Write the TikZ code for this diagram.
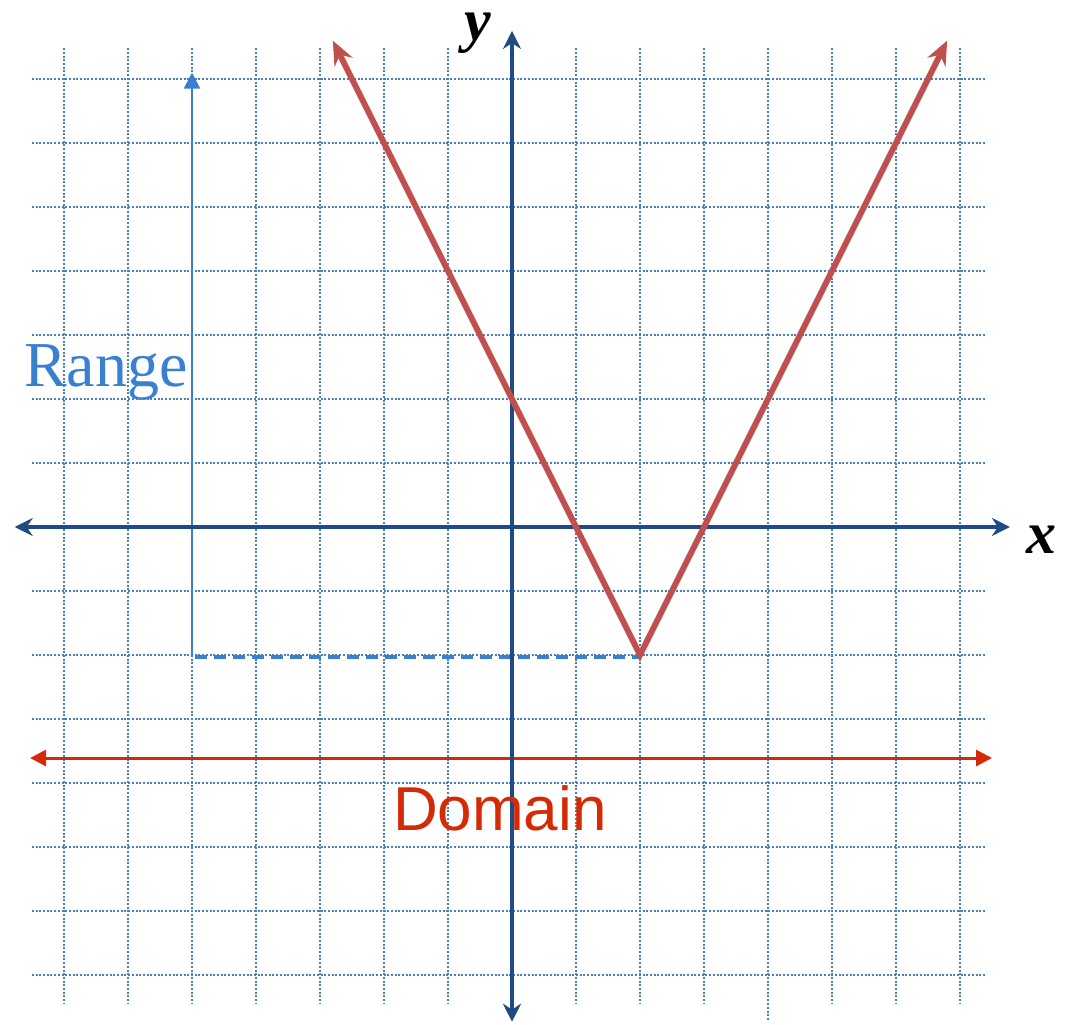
\documentclass[tikz,border=0pt]{standalone}
\usepackage{fontspec}
\setmainfont{Liberation Serif}
\newfontfamily\arialfont{Liberation Sans}
\usetikzlibrary{arrows.meta}
\definecolor{gridblue}{HTML}{4A7EBF}
\definecolor{axisblue}{HTML}{1F4A82}
\definecolor{graphred}{HTML}{C0504D}
\definecolor{rangeblue}{HTML}{3A80D0}
\definecolor{domainred}{HTML}{D42A06}
\tikzset{
  gridline/.style={gridblue, line width=1pt, dash pattern=on 1pt off 0.85pt},
  axisline/.style={axisblue, line width=1.6pt, {Stealth[length=9pt,width=9pt,inset=3pt]}-{Stealth[length=9pt,width=9pt,inset=3pt]}},
  graphline/.style={graphred, line width=3pt, line join=miter},
  rangearrow/.style={rangeblue, line width=1pt, -{Triangle[length=8pt,width=8pt]}},
  dashline/.style={rangeblue, line width=1.6pt, dash pattern=on 6pt off 3.5pt},
  domainarrow/.style={domainred, line width=1.5pt, {Triangle[length=8pt,width=8pt]}-{Triangle[length=8pt,width=8pt]}},
  axlabel/.style={font=\fontsize{30}{30}\selectfont\bfseries\itshape, inner sep=0pt, anchor=base, text height=14pt},
}
\begin{document}
\begin{tikzpicture}[x=32pt,y=32pt]
\useasboundingbox (-8,-7.766) rectangle (8.703,8.234);
% grid
\foreach \i in {-7,...,7} {
  \draw[gridline] (\i,7.48) -- (\i,-7.44);
  \draw[gridline] (-7.5,\i) -- (7.39,\i);
}
\draw[gridline] (4,-7.44) -- (4,-7.7);
% dashed guide and range arrow
\coordinate (rbase) at (-4.95,-2.03);
\coordinate (rtop) at (-5,7.1);
\coordinate (vtx) at (2,-2.03);
\draw[dashline] (rbase) -- (vtx);
\draw[rangearrow] (-5,-2) -- (rtop);
% domain arrow
\coordinate (dl) at (-7.53,-3.61);
\coordinate (dr) at (7.5,-3.61);
\draw[domainarrow] (dl) -- (dr);
% axes
\coordinate (xl) at (-7.77,0);
\coordinate (xr) at (7.78,0);
\coordinate (yt) at (0,7.75);
\coordinate (yb) at (0,-7.73);
\draw[axisline] (xl) -- (xr);
\draw[axisline] (yb) -- (yt);
% graph
\coordinate (gl) at (-2.8,7.6);
\coordinate (gv) at (2,-2);
\coordinate (gr) at (6.8,7.6);
\draw[graphline, {Stealth[length=12pt,width=10pt,inset=4pt]}-{Stealth[length=12pt,width=10pt,inset=4pt]}] (gl) -- (gv) -- (gr);
% labels
\node[axlabel] (ylab) at (-0.53,7.6) {y};
\node[axlabel] (xlab) at (8.28,-0.41) {x};
\node[rangeblue, font=\fontsize{32}{32}\selectfont, inner sep=0pt, anchor=east] (range) at (-5.06,2.42) {Range};
\node[domainred, font=\arialfont\fontsize{31}{31}\selectfont, inner sep=0pt] (domain) at (-0.19,-4.39) {Domain};
\end{tikzpicture}
\end{document}
